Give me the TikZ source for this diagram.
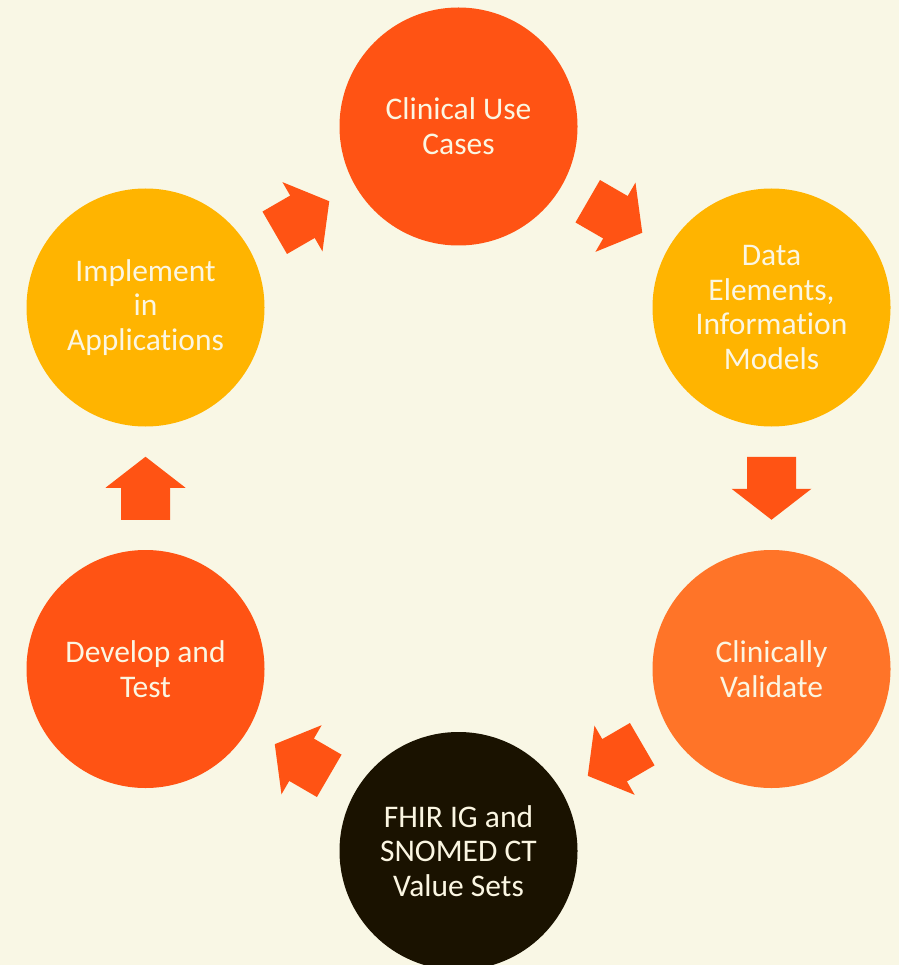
\documentclass[tikz,border=0pt]{standalone}
\usepackage{fontspec}
\setmainfont{Carlito}[Ligatures={NoCommon}]
\usetikzlibrary{calc}

\definecolor{pagebg}{HTML}{F9F7E5}
\definecolor{redorange}{HTML}{FF5314}
\definecolor{amber}{HTML}{FFB400}
\definecolor{tangerine}{HTML}{FF7428}
\definecolor{nearblack}{HTML}{1A1200}
\definecolor{creamtext}{HTML}{FBF6E2}

\tikzset{
  stage/.style={circle, draw=none, fill=#1, minimum size=238pt, inner sep=0pt,
    text=creamtext, align=center,
    font=\fontsize{31.5}{34.7}\selectfont},
  blockarrow/.pic={
    \fill[redorange] (-31.5,-24.5) -- (0.5,-24.5) -- (0.5,-40) -- (31.5,0)
      -- (0.5,40) -- (0.5,24.5) -- (-31.5,24.5) -- cycle;
  },
  cyclearrow/.style={sloped, allow upside down, pos=0.5}
}

\begin{document}
\begin{tikzpicture}[x=1pt, y=-1pt]
  % page
  \useasboundingbox (0,0) rectangle (899,965);
  \fill[pagebg] (0,0) rectangle (899,965);
  \clip (0,0) rectangle (899,965);

  % the six stages of the cycle
  \node[stage=redorange]  (usecases)  at (458.5,126.5) {Clinical Use\\Cases};
  \node[stage=amber]      (dataelem)  at (771.5,307.5) {Data\\Elements,\\Information\\Models};
  \node[stage=tangerine]  (validate)  at (771.5,669)   {Clinically\\Validate};
  \node[stage=nearblack]  (valuesets) at (458.5,851)   {FHIR IG and\\SNOMED CT\\Value Sets};
  \node[stage=redorange]  (develop)   at (145.5,669)   {Develop and\\Test};
  \node[stage=amber]      (implement) at (145.5,307.5) {Implement\\in\\Applications};

  % block arrows between consecutive stages
  \path (usecases.center)  -- pic[cyclearrow]{blockarrow} (dataelem.center);
  \path (dataelem.center)  -- pic[cyclearrow]{blockarrow} (validate.center);
  \path (validate.center)  -- pic[cyclearrow]{blockarrow} (valuesets.center);
  \path (valuesets.center) -- pic[cyclearrow]{blockarrow} (develop.center);
  \path (develop.center)   -- pic[cyclearrow]{blockarrow} (implement.center);
  \path (implement.center) -- pic[cyclearrow]{blockarrow} (usecases.center);
\end{tikzpicture}
\end{document}
